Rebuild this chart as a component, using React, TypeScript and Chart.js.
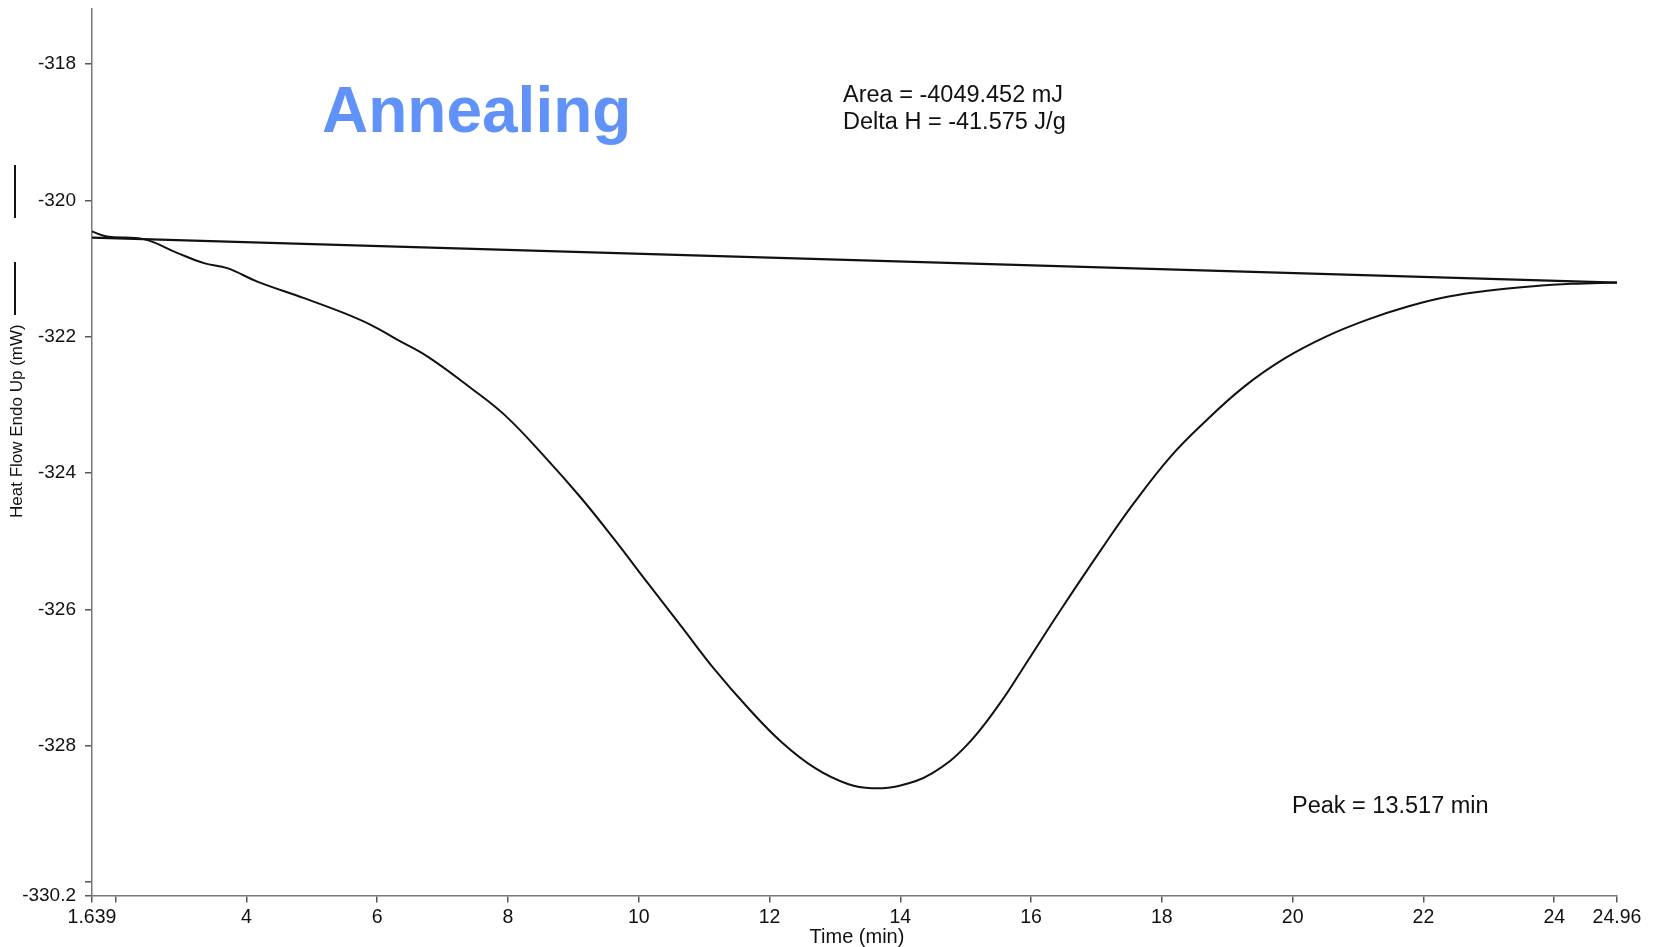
import React, { useEffect, useRef } from 'react';
import { Chart, registerables } from 'chart.js';

Chart.register(...registerables);

const FONT = '"Liberation Sans", Arial, Helvetica, sans-serif';

// DSC curve (Time in min, Heat Flow in mW)
const curveTime = [
  1.639, 1.869, 2.431, 2.941, 3.351, 3.708, 4.167, 4.883, 5.496, 5.903, 6.313, 6.772,
  7.436, 7.948, 8.56, 9.122, 9.633, 10.139, 10.654, 11.166, 11.676, 12.186, 12.698,
  13.208, 13.565, 13.974, 14.485, 14.996, 15.506, 15.945, 16.444, 17.069, 17.571,
  18.133, 18.634, 19.259, 19.884, 20.51, 21.135, 21.761, 22.386, 23.012, 23.637,
  24.262, 24.96,
];
const curveHeat = [
  -320.456, -320.529, -320.567, -320.768, -320.919, -320.993, -321.19, -321.433,
  -321.653, -321.825, -322.045, -322.29, -322.754, -323.146, -323.758, -324.369,
  -324.981, -325.616, -326.253, -326.889, -327.451, -327.95, -328.33, -328.567,
  -328.625, -328.591, -328.405, -328.014, -327.402, -326.76, -326.02, -325.127,
  -324.442, -323.758, -323.268, -322.731, -322.314, -321.997, -321.752, -321.556,
  -321.41, -321.322, -321.263, -321.223, -321.204,
];

// integration baseline
const baselineTime = [1.639, 24.96];
const baselineHeat = [-320.545, -321.204];

const xTickValues = [1.639, 2, 4, 6, 8, 10, 12, 14, 16, 18, 20, 22, 24, 24.96];
const xTickLabels = ['1.639', '', '4', '6', '8', '10', '12', '14', '16', '18', '20', '22', '24', '24.96'];
const yTickValues = [-330.2, -330, -328, -326, -324, -322, -320, -318];
const yTickLabels = ['-330.2', '', '-328', '-326', '-324', '-322', '-320', '-318'];

const X_MIN = 1.639;
const X_MAX = 24.96;
const Y_MIN = -330.2;
const Y_MAX = -317.19;

const titleText = 'Annealing';
const areaLines = ['Area = -4049.452 mJ', 'Delta H = -41.575 J/g'];
const peakText = 'Peak = 13.517 min';
const xTitle = 'Time (min)';
const yTitle = 'Heat Flow Endo Up (mW)';

const labelFor = (values: number[], labels: string[]) => (v: any) => {
  const n = Number(v);
  const i = values.findIndex((t) => Math.abs(t - n) < 1e-6);
  return i >= 0 ? labels[i] : '';
};

const annotationPlugin = {
  id: 'dscAnnotations',
  afterDraw(chart: any) {
    const ctx = chart.ctx as CanvasRenderingContext2D;
    ctx.save();
    ctx.textBaseline = 'alphabetic';
    ctx.textAlign = 'left';

    ctx.fillStyle = '#6192F9';
    ctx.font = `bold 64px ${FONT}`;
    ctx.fillText(titleText, 322, 132);

    ctx.fillStyle = '#111111';
    ctx.font = `23.5px ${FONT}`;
    ctx.fillText(areaLines[0], 843, 102);
    ctx.fillText(areaLines[1], 843, 129);
    ctx.fillText(peakText, 1292, 813);

    ctx.font = `20px ${FONT}`;
    ctx.textAlign = 'center';
    ctx.fillText(xTitle, 857, 943);

    ctx.save();
    ctx.translate(22, 518);
    ctx.rotate(-Math.PI / 2);
    ctx.textAlign = 'left';
    ctx.font = `17px ${FONT}`;
    ctx.fillText(yTitle, 0, 0);
    ctx.restore();

    ctx.strokeStyle = '#111111';
    ctx.lineWidth = 2;
    ctx.beginPath();
    ctx.moveTo(15, 315);
    ctx.lineTo(15, 262);
    ctx.moveTo(15, 218);
    ctx.lineTo(15, 165);
    ctx.stroke();
    ctx.restore();
  },
};

export default function App() {
  const canvasRef = useRef<HTMLCanvasElement | null>(null);

  useEffect(() => {
    document.body.style.margin = '0';
    const canvas = canvasRef.current;
    if (!canvas) return;

    const chart = new Chart(canvas, {
      type: 'scatter',
      data: {
        datasets: [
          {
            data: curveTime.map((x, i) => ({ x, y: curveHeat[i] })),
            showLine: true,
            borderColor: '#111111',
            borderWidth: 2,
            pointRadius: 0,
            tension: 0.4,
            fill: false,
          },
          {
            data: baselineTime.map((x, i) => ({ x, y: baselineHeat[i] })),
            showLine: true,
            borderColor: '#111111',
            borderWidth: 2.2,
            pointRadius: 0,
            tension: 0,
            fill: false,
          },
        ],
      },
      options: {
        responsive: false,
        animation: false,
        devicePixelRatio: 1,
        layout: { padding: { top: 9, right: 39, left: 0, bottom: 0 } },
        plugins: { legend: { display: false }, tooltip: { enabled: false }, title: { display: false } },
        scales: {
          x: {
            type: 'linear',
            min: X_MIN,
            max: X_MAX,
            afterBuildTicks: (s: any) => {
              s.ticks = xTickValues.map((v) => ({ value: v }));
            },
            afterFit: (s: any) => {
              s.height = 51.4;
              s.paddingLeft = 0;
              s.paddingRight = 0;
            },
            grid: { drawOnChartArea: false, drawTicks: true, tickLength: 7, color: '#555555', lineWidth: 1.5 },
            border: { display: true, color: '#777777', width: 1.5 },
            ticks: {
              autoSkip: false,
              maxRotation: 0,
              minRotation: 0,
              padding: 3,
              color: '#111111',
              font: { size: 19.5, family: FONT },
              callback: labelFor(xTickValues, xTickLabels),
            },
          },
          y: {
            type: 'linear',
            min: Y_MIN,
            max: Y_MAX,
            afterBuildTicks: (s: any) => {
              s.ticks = yTickValues.map((v) => ({ value: v }));
            },
            afterFit: (s: any) => {
              s.width = 92;
              s.paddingTop = 0;
              s.paddingBottom = 0;
            },
            grid: { drawOnChartArea: false, drawTicks: true, tickLength: 7, color: '#555555', lineWidth: 1.5 },
            border: { display: true, color: '#777777', width: 1.5 },
            ticks: {
              autoSkip: false,
              padding: 9,
              color: '#111111',
              font: { size: 19, family: FONT },
              callback: labelFor(yTickValues, yTickLabels),
            },
          },
        },
      } as any,
      plugins: [annotationPlugin],
    });

    return () => chart.destroy();
  }, []);

  return (
    <div style={{ width: 1656, height: 947, background: '#ffffff' }}>
      <canvas ref={canvasRef} width={1656} height={947} style={{ display: 'block' }} />
    </div>
  );
}
